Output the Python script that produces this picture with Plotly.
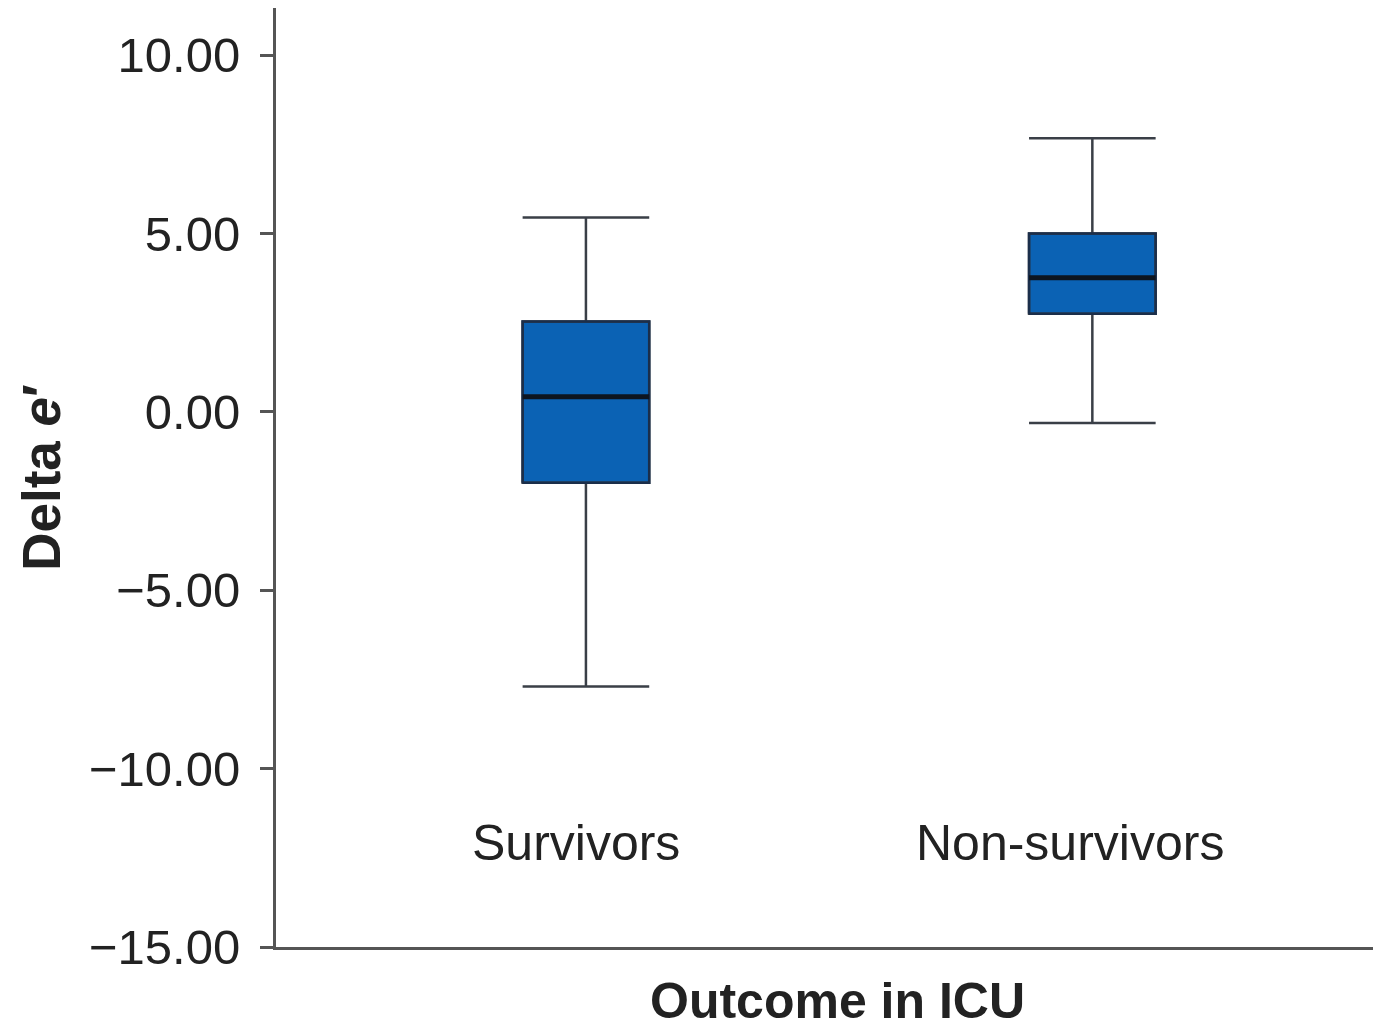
import plotly.graph_objects as go

categories = ["Survivors", "Non-survivors"]
positions = [0, 1]
lower_whisker = [-7.70, -0.31]
q1 = [-1.99, 2.75]
median = [0.42, 3.76]
q3 = [2.53, 5.00]
upper_whisker = [5.45, 7.67]
y_ticks = [10, 5, 0, -5, -10, -15]

box_width = 0.25
fill_color = "#0b62b4"
edge_color = "#1b2e4a"
font_family = "Liberation Sans, Arial, sans-serif"

fig = go.Figure()
for i, name in enumerate(categories):
    fig.add_trace(go.Box(
        x=[positions[i]], q1=[q1[i]], median=[median[i]], q3=[q3[i]],
        lowerfence=[lower_whisker[i]], upperfence=[upper_whisker[i]],
        width=box_width, whiskerwidth=1, fillcolor=fill_color,
        line=dict(color="#3a3f47", width=2.5), boxpoints=False,
        name=name, showlegend=False, hoverinfo="skip",
    ))
    fig.add_trace(go.Scatter(
        x=[positions[i] - box_width / 2, positions[i] + box_width / 2,
           positions[i] + box_width / 2, positions[i] - box_width / 2,
           positions[i] - box_width / 2],
        y=[q1[i], q1[i], q3[i], q3[i], q1[i]],
        mode="lines", line=dict(color=edge_color, width=2.5),
        showlegend=False, hoverinfo="skip",
    ))
    fig.add_trace(go.Scatter(
        x=[positions[i] - box_width / 2, positions[i] + box_width / 2],
        y=[median[i], median[i]],
        mode="lines", line=dict(color="#0d1520", width=5),
        showlegend=False, hoverinfo="skip",
    ))
    fig.add_annotation(
        x=positions[i], y=-12.08, xref="x", yref="y",
        text=name, showarrow=False, xshift=-10 - 12 * i,
        font=dict(family=font_family, size=50, color="#222"),
        yanchor="middle",
    )

fig.add_annotation(
    x=0.508, y=-0.057, xref="paper", yref="paper",
    text="<b>Outcome in ICU</b>", showarrow=False,
    font=dict(family=font_family, size=50, color="#222"),
    yanchor="middle", xanchor="center",
)

fig.update_layout(
    width=1373, height=1023,
    margin=dict(l=268, r=0, t=0, b=84),
    plot_bgcolor="white", paper_bgcolor="white",
    font=dict(family=font_family, color="#222"),
    xaxis=dict(
        range=[-0.612, 1.57], showgrid=False, zeroline=False,
        showticklabels=False, ticks="", showline=True,
        linecolor="#555", linewidth=3,
    ),
    yaxis=dict(
        range=[-15, 11.32], tickvals=y_ticks, tickformat=".2f",
        showgrid=False, zeroline=False, showline=True,
        linecolor="#555", linewidth=3, ticks="outside", ticklen=13,
        tickwidth=2.5, tickcolor="#555", ticklabelstandoff=10,
        tickfont=dict(family=font_family, size=49, color="#222"),
        title=dict(text="<b>Delta <i>e</i>′</b>", standoff=12,
                   font=dict(family=font_family, size=53, color="#222")),
    ),
)

fig.write_html("out.html")
